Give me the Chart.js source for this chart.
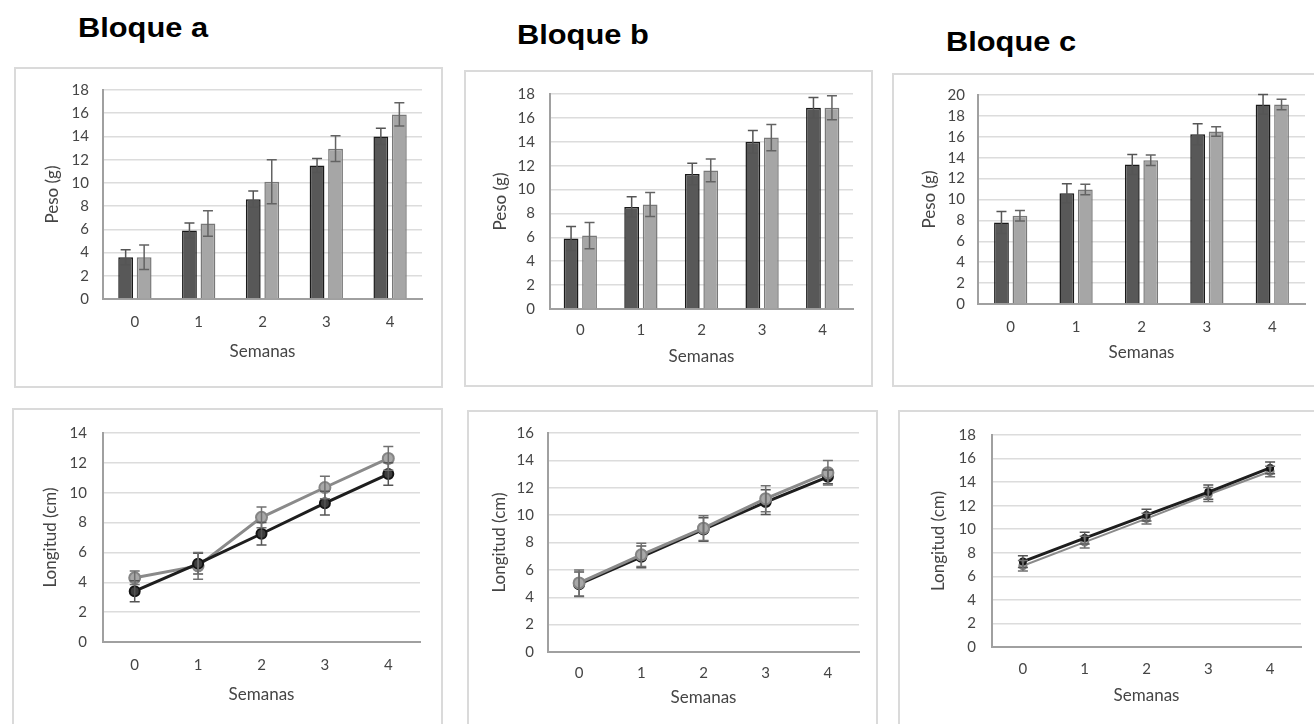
<!DOCTYPE html>
<html>
<head>
<meta charset="utf-8">
<script src="https://cdn.jsdelivr.net/npm/chart.js@4.4.1/dist/chart.umd.min.js"></script>
<style>
  html, body { margin: 0; padding: 0; background: #ffffff; }
  body { width: 1314px; height: 724px; overflow: hidden; position: relative; }
  .box { position: absolute; box-sizing: border-box; border: 2px solid #dadada; }
  canvas { position: absolute; }
  .title { position: absolute; font-family: "Liberation Sans", Arial, sans-serif; font-weight: bold;
           font-size: 28px; line-height: 28px; color: #000; white-space: nowrap;
           transform: scaleX(1.1); transform-origin: left top; }
</style>
</head>
<body>
<div class="title" style="left:78px; top:14px;">Bloque a</div>
<div class="title" style="left:517px; top:21px;">Bloque b</div>
<div class="title" style="left:946px; top:28px;">Bloque c</div>

<script>
// ---------- DATA ----------
const weeks = ['0', '1', '2', '3', '4'];

// Peso (g) — bar charts
const pesoA_s1 = [3.6, 5.9, 8.6, 11.5, 14.0];
const pesoA_s1_err = [0.65, 0.65, 0.7, 0.6, 0.7];
const pesoA_s2 = [3.6, 6.5, 10.1, 12.95, 15.9];
const pesoA_s2_err = [1.05, 1.1, 1.9, 1.1, 1.0];

const pesoB_s1 = [5.9, 8.55, 11.3, 14.0, 16.85];
const pesoB_s1_err = [1.0, 0.85, 0.9, 0.95, 0.85];
const pesoB_s2 = [6.15, 8.75, 11.6, 14.35, 16.85];
const pesoB_s2_err = [1.1, 1.0, 0.95, 1.1, 1.0];

const pesoC_s1 = [7.8, 10.6, 13.35, 16.25, 19.1];
const pesoC_s1_err = [1.05, 0.9, 0.95, 1.0, 0.95];
const pesoC_s2 = [8.45, 10.95, 13.75, 16.5, 19.1];
const pesoC_s2_err = [0.5, 0.5, 0.5, 0.45, 0.5];

// Longitud (cm) — line charts
const longA_s1 = [3.4, 5.25, 7.25, 9.3, 11.25];
const longA_s1_err = [0.7, 0.7, 0.75, 0.8, 0.75];
const longA_s2 = [4.3, 5.1, 8.35, 10.35, 12.3];
const longA_s2_err = [0.45, 0.9, 0.7, 0.75, 0.8];

const longB_s1 = [4.95, 6.95, 8.95, 10.95, 12.8];
const longB_s1_err = [0.9, 0.8, 0.85, 0.9, 0.5];
const longB_s2 = [5.05, 7.1, 9.05, 11.2, 13.1];
const longB_s2_err = [0.95, 0.85, 0.9, 0.95, 0.9];

const longC_s1 = [7.25, 9.25, 11.2, 13.15, 15.2];
const longC_s1_err = [0.5, 0.5, 0.5, 0.6, 0.5];
const longC_s2 = [6.9, 8.9, 10.9, 12.95, 14.9];
const longC_s2_err = [0.45, 0.5, 0.45, 0.6, 0.45];

const yTitlePeso = 'Peso (g)';
const yTitleLong = 'Longitud (cm)';
const xTitle = 'Semanas';

// ---------- STYLE ----------
Chart.defaults.font.family = 'Lato, "Noto Sans", sans-serif';
const TXT = '#454545';
const TICK_FONT = 15, TITLE_FONT = 17;

const errorBars = {
  id: 'errorBars',
  afterDatasetsDraw(chart) {
    const ctx = chart.ctx, ys = chart.scales.y;
    chart.data.datasets.forEach((ds, i) => {
      if (!ds.errors) return;
      const meta = chart.getDatasetMeta(i);
      meta.data.forEach((el, j) => {
        const v = ds.data[j], e = ds.errors[j];
        const yt = ys.getPixelForValue(v + e), yb = ys.getPixelForValue(v - e);
        const cap = ds.errCap || 5;
        ctx.save();
        ctx.strokeStyle = ds.errColor || '#6e6e6e';
        ctx.lineWidth = 1.5;
        ctx.beginPath();
        ctx.moveTo(el.x, yt); ctx.lineTo(el.x, yb);
        ctx.moveTo(el.x - cap, yt); ctx.lineTo(el.x + cap, yt);
        ctx.moveTo(el.x - cap, yb); ctx.lineTo(el.x + cap, yb);
        ctx.stroke();
        ctx.restore();
      });
    });
  }
};

function panel(g) {
  const [bl, bt, bw, bh] = g.box;
  const border = document.createElement('div');
  border.className = 'box';
  Object.assign(border.style, { left: bl + 'px', top: bt + 'px', width: bw + 'px', height: bh + 'px' });
  document.body.appendChild(border);

  const cv = document.createElement('canvas');
  cv.width = bw; cv.height = bh;
  Object.assign(cv.style, { left: bl + 'px', top: bt + 'px', width: bw + 'px', height: bh + 'px' });
  document.body.appendChild(cv);

  const [pl, pt, pr, pb] = g.plot;
  const yw = pl - bl;
  const xh = (g.xTitleY - pb) + TITLE_FONT * 1.2 / 2;
  const padBottom = (bt + bh) - pb - xh;

  new Chart(cv, {
    type: g.type,
    data: { labels: weeks, datasets: g.datasets },
    plugins: [errorBars],
    options: {
      responsive: false,
      animation: false,
      events: [],
      layout: { padding: { left: 0, top: pt - bt, right: (bl + bw) - pr, bottom: padBottom } },
      plugins: { legend: { display: false }, tooltip: { enabled: false } },
      datasets: { bar: { categoryPercentage: g.catPct || 0.58, barPercentage: 0.8 } },
      scales: {
        x: {
          offset: true,
          grid: { display: false, drawTicks: false },
          border: { display: true, color: '#a0a0a0', width: 2 },
          ticks: { padding: g.xTickY - pb - TICK_FONT * 1.2 / 2, color: TXT, font: { size: TICK_FONT } },
          title: { display: true, text: xTitle, color: TXT, font: { size: TITLE_FONT }, padding: { top: 0, bottom: 0 } },
          afterFit: s => { s.height = xh; }
        },
        y: {
          min: 0, max: g.yMax,
          ticks: { stepSize: 2, autoSkip: false, padding: g.yTickPad, color: TXT, font: { size: TICK_FONT } },
          grid: { color: ctx => ctx.tick && ctx.tick.value === 0 ? '#a0a0a0' : '#dcdcdc', lineWidth: 1.5, drawTicks: false },
          border: { display: true, color: '#a0a0a0', width: 2 },
          title: { display: true, text: g.yTitle, color: TXT, font: { size: TITLE_FONT },
                   padding: { top: g.yTitleX - bl - TITLE_FONT * 1.2 / 2, bottom: 0 } },
          afterFit: s => { s.width = yw; }
        }
      }
    }
  });
}

function barSets(s1, e1, s2, e2) {
  return [
    { label: 'Serie 1', data: s1, errors: e1, backgroundColor: '#585858', borderColor: '#1a1a1a', borderWidth: 1.5, errColor: '#555555' },
    { label: 'Serie 2', data: s2, errors: e2, backgroundColor: '#a6a6a6', borderColor: '#787878', borderWidth: 1.5, errColor: '#636363' }
  ];
}

function lineSets(s1, e1, s2, e2, r, darkOnTop, lw2) {
  return [
    { label: 'Serie 1', data: s1, errors: e1, borderColor: '#1e1e1e', borderWidth: 3, pointRadius: r,
      pointBackgroundColor: '#3c3c3c', pointBorderColor: '#141414', pointBorderWidth: 2,
      errColor: '#555555', errCap: 5, order: darkOnTop ? 0 : 1, tension: 0 },
    { label: 'Serie 2', data: s2, errors: e2, borderColor: '#8a8a8a', borderWidth: lw2 || 3, pointRadius: r + 0.5,
      pointBackgroundColor: '#a8a8a8', pointBorderColor: '#858585', pointBorderWidth: 2,
      errColor: '#707070', errCap: 5, order: darkOnTop ? 1 : 0, tension: 0 }
  ];
}

// ---------- PANELS ----------
panel({ type: 'bar', box: [14, 67, 429, 321], plot: [103, 89, 422, 299], yMax: 18, yTitle: yTitlePeso,
        yTitleX: 53, yTickPad: 14, xTickY: 322, xTitleY: 352, catPct: 0.58,
        datasets: barSets(pesoA_s1, pesoA_s1_err, pesoA_s2, pesoA_s2_err) });
panel({ type: 'bar', box: [464, 70, 409, 317], plot: [550, 89, 853, 309], yMax: 18, yTitle: yTitlePeso,
        yTitleX: 501, yTickPad: 15, xTickY: 330, xTitleY: 357, catPct: 0.61,
        datasets: barSets(pesoB_s1, pesoB_s1_err, pesoB_s2, pesoB_s2_err) });
panel({ type: 'bar', box: [892, 73, 430, 314], plot: [978, 93, 1305, 304], yMax: 20, yTitle: yTitlePeso,
        yTitleX: 930, yTickPad: 13, xTickY: 327, xTitleY: 353, catPct: 0.565,
        datasets: barSets(pesoC_s1, pesoC_s1_err, pesoC_s2, pesoC_s2_err) });

panel({ type: 'line', box: [12, 408, 431, 330], plot: [103, 430, 420, 642], yMax: 14, yTitle: yTitleLong,
        yTitleX: 51, yTickPad: 16, xTickY: 665, xTitleY: 695,
        datasets: lineSets(longA_s1, longA_s1_err, longA_s2, longA_s2_err, 5, true) });
panel({ type: 'line', box: [467, 410, 411, 330], plot: [548, 430, 859, 652], yMax: 16, yTitle: yTitleLong,
        yTitleX: 500, yTickPad: 14, xTickY: 673, xTitleY: 698,
        datasets: lineSets(longB_s1, longB_s1_err, longB_s2, longB_s2_err, 5, false) });
panel({ type: 'line', box: [898, 410, 430, 330], plot: [992, 431, 1301, 647], yMax: 18, yTitle: yTitleLong,
        yTitleX: 939, yTickPad: 16, xTickY: 669, xTitleY: 696,
        datasets: lineSets(longC_s1, longC_s1_err, longC_s2, longC_s2_err, 3, true, 2) });
</script>
</body>
</html>
